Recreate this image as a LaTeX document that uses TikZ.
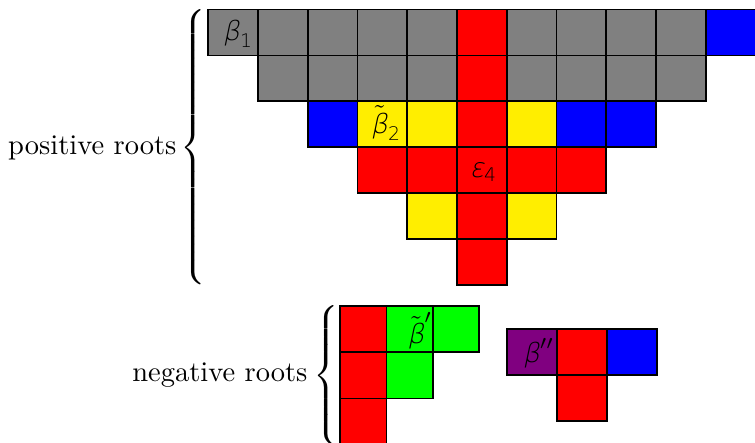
\documentclass[tikz,border=0pt]{standalone}
\usepackage{fontspec}
\usepackage{graphicx}
\newfontfamily\lblfont[FakeSlant=0.21]{DejaVu Sans ExtraLight}
\newfontfamily\lblupfont{DejaVu Sans ExtraLight}
% thin sans-serif Greek letters and indices for the cell labels
\newcommand\gsym[1]{\hbox{\lblfont\fontsize{9.4pt}{11pt}\selectfont #1}}
\newcommand\gsub[1]{\hbox{\lblupfont\fontsize{6.6pt}{7pt}\selectfont #1}}
% a tall left brace of given height above and depth below the baseline,
% squeezed vertically by the factor #3
\newcommand\tallbrace[3]{\scalebox{1}[#3]{$\delimiterfactor=1000 \delimitershortfall=0pt \nulldelimiterspace=0pt
  \left\{\vrule height #1 depth #2 width 0pt\right.$}}
\definecolor{rgray}{RGB}{128,128,128}
\definecolor{rred}{RGB}{255,0,0}
\definecolor{rblue}{RGB}{0,0,255}
\definecolor{ryellow}{RGB}{255,238,0}
\definecolor{rgreen}{RGB}{0,255,0}
\definecolor{rpurple}{RGB}{128,0,128}
\begin{document}
\begin{tikzpicture}[x=0.3509pt,y=-0.3509pt,
  cellline/.style={draw=black,line width=0.6pt},
  lbl/.style={anchor=east,inner sep=0pt}]
\useasboundingbox (0,0) rectangle (755,442);

% positive roots: staircase of cells, 49.74 wide and 45.9 high
\def\cw{49.74}\def\ch{45.9}
\foreach \c/\k in {0/rgray,1/rgray,2/rgray,3/rgray,4/rgray,5/rred,6/rgray,7/rgray,8/rgray,9/rgray,10/rblue}
  \filldraw[cellline,fill=\k] ({208.3+\cw*\c},{9.5+\ch*0}) rectangle ++(\cw,\ch);
\foreach \c/\k in {1/rgray,2/rgray,3/rgray,4/rgray,5/rred,6/rgray,7/rgray,8/rgray,9/rgray}
  \filldraw[cellline,fill=\k] ({208.3+\cw*\c},{9.5+\ch*1}) rectangle ++(\cw,\ch);
\foreach \c/\k in {2/rblue,3/ryellow,4/ryellow,5/rred,6/ryellow,7/rblue,8/rblue}
  \filldraw[cellline,fill=\k] ({208.3+\cw*\c},{9.5+\ch*2}) rectangle ++(\cw,\ch);
\foreach \c/\k in {3/rred,4/rred,5/rred,6/rred,7/rred}
  \filldraw[cellline,fill=\k] ({208.3+\cw*\c},{9.5+\ch*3}) rectangle ++(\cw,\ch);
\foreach \c/\k in {4/ryellow,5/rred,6/ryellow}
  \filldraw[cellline,fill=\k] ({208.3+\cw*\c},{9.5+\ch*4}) rectangle ++(\cw,\ch);
\foreach \c/\k in {5/rred}
  \filldraw[cellline,fill=\k] ({208.3+\cw*\c},{9.5+\ch*5}) rectangle ++(\cw,\ch);

% negative roots: left block
\foreach \c/\r/\k in {0/0/rred,1/0/rgreen,2/0/rgreen,0/1/rred,1/1/rgreen,0/2/rred}
  \filldraw[cellline,fill=\k] ({340+46.4*\c},{306+46.2*\r}) rectangle ++(46.4,46.2);
% negative roots: right block
\foreach \c/\r/\k in {0/0/rpurple,1/0/rred,2/0/rblue,1/1/rred}
  \filldraw[cellline,fill=\k] ({506.7+50*\c},{329.3+45.9*\r}) rectangle ++(50,45.9);

% cell labels
\node[lbl] (b1) at (254,34) {$\gsym{β}_{\gsub{1}}$};
\node[lbl] (b2) at (402,123) {$\tilde{\gsym{β}}_{\gsub{2}}$};
\node[lbl] (e4) at (498,172) {$\gsym{ε}_{\gsub{4}}$};
\node[lbl] (bp) at (433,331) {$\tilde{\gsym{β}}'$};
\node[lbl] (bpp) at (555,353) {$\gsym{β}''$};

% group labels with braces
\node[anchor=base east,inner sep=0pt] (pos) at (177,154.3) {positive roots};
\node[anchor=east,inner sep=0pt] (posbrace) at (206,147.5) {\tallbrace{50.75pt}{45.75pt}{0.948}};
\node[anchor=base east,inner sep=0pt] (neg) at (308,381) {negative roots};
\node[anchor=east,inner sep=0pt] (negbrace) at (339,376) {\tallbrace{27.75pt}{22.75pt}{0.91}};
\end{tikzpicture}
\end{document}
